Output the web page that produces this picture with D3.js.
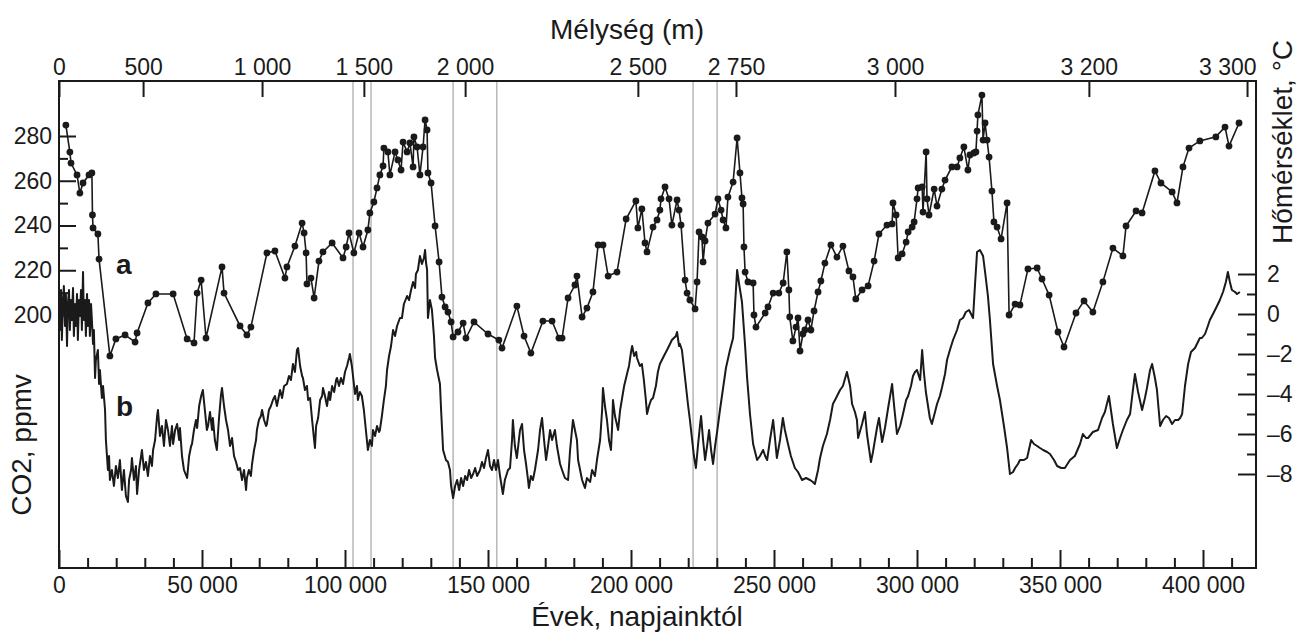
<!DOCTYPE html>
<html>
<head>
<meta charset="utf-8">
<script src="https://cdn.jsdelivr.net/npm/d3@7"></script>
<style>
  body { margin: 0; background: #fff; }
  svg { display: block; font-family: "Liberation Sans", Arial, Helvetica, sans-serif; }
</style>
</head>
<body>
<svg id="chart" width="1307" height="632"></svg>
<script>
// CO2 (a): [age in kyr, ppmv]
const co2Data = [[2.4,284.9],[3.8,272.8],[4.2,267.9],[6.3,262.6],[7.3,254.5],[8.4,259.0],[10.5,262.6],[11.5,263.5],[11.7,244.7],[11.9,238.9],[13.6,236.2],[14.0,225.0],[17.8,181.7],[19.9,189.3],[23.1,191.1],[26.6,187.9],[27.3,192.0],[31.1,205.4],[33.9,209.4],[39.9,209.4],[44.8,189.3],[47.2,187.5],[48.3,209.8],[49.7,215.6],[51.4,189.7],[57.0,221.5],[57.7,209.8],[63.3,195.1],[65.7,191.1],[67.1,194.6],[72.7,227.7],[75.5,228.6],[79.0,216.5],[79.7,221.5],[82.5,230.8],[85.0,241.1],[85.7,236.7],[86.4,227.7],[86.7,213.9],[88.1,216.5],[89.2,207.6],[90.9,224.1],[92.3,228.2],[95.5,232.2],[99.3,225.5],[100.4,230.4],[101.4,236.7],[103.1,227.7],[104.9,236.7],[106.3,230.4],[108.0,238.0],[108.7,245.6],[110.1,250.5],[111.2,256.8],[112.2,262.6],[113.3,266.6],[113.6,274.6],[115.0,272.9],[115.7,262.6],[117.5,272.9],[118.5,269.3],[119.6,264.8],[120.3,277.3],[121.7,272.9],[122.7,276.9],[123.8,266.2],[124.1,279.6],[125.2,275.1],[126.2,262.6],[127.3,275.1],[128.0,287.2],[128.7,282.7],[129.0,263.5],[130.1,259.0],[131.5,239.8],[132.9,223.7],[133.9,208.0],[135.0,203.6],[136.0,201.3],[137.1,196.9],[137.8,190.2],[139.5,192.4],[141.3,196.4],[142.3,189.7],[145.1,196.9],[150.0,191.5],[153.8,188.8],[154.9,185.2],[160.1,204.0],[162.6,190.6],[165.0,183.0],[169.2,197.3],[172.4,197.3],[174.8,189.7],[175.9,189.7],[178.0,207.6],[180.4,213.4],[181.1,217.4],[182.9,199.1],[184.6,203.1],[186.7,210.3],[188.5,231.3],[190.2,231.3],[192.0,217.4],[195.1,219.2],[198.3,242.9],[201.7,251.0],[202.4,238.9],[203.8,247.4],[204.9,232.2],[205.6,228.2],[207.7,239.3],[209.1,242.5],[210.1,246.9],[210.5,251.9],[211.9,257.2],[213.3,251.9],[214.3,240.2],[216.1,251.4],[216.8,246.9],[217.5,240.2],[218.9,215.6],[219.6,209.8],[220.6,206.7],[222.4,202.7],[223.1,214.8],[223.8,237.1],[224.8,234.9],[225.2,223.7],[225.9,233.1],[226.9,241.1],[229.4,245.1],[230.4,251.9],[231.5,246.9],[232.2,242.5],[233.2,238.9],[233.9,252.7],[235.7,259.4],[237.1,279.1],[238.1,263.5],[238.8,252.3],[239.2,249.6],[239.5,230.4],[239.9,219.2],[240.9,214.8],[242.7,214.3],[243.0,200.0],[243.7,194.6],[246.9,200.9],[247.9,203.6],[249.7,209.8],[251.7,209.8],[253.2,214.3],[254.5,228.2],[255.2,211.2],[255.5,199.1],[256.6,188.4],[257.7,194.6],[258.4,198.7],[259.1,183.9],[260.1,191.5],[260.8,193.3],[261.9,197.8],[262.9,193.3],[264.0,201.8],[265.4,210.3],[266.4,215.2],[267.8,223.2],[269.9,231.3],[272.0,225.9],[274.1,230.8],[276.2,219.7],[277.6,217.0],[278.6,207.2],[280.8,211.2],[282.9,213.0],[285.0,224.1],[286.7,236.2],[289.5,240.2],[291.3,240.7],[291.6,250.1],[292.7,244.7],[293.4,225.5],[294.8,227.3],[296.2,232.6],[296.9,237.1],[298.3,239.3],[299.0,241.6],[300.0,251.9],[300.4,256.8],[301.8,257.2],[302.1,246.0],[303.2,272.9],[303.5,251.9],[304.2,244.7],[306.0,256.3],[307.0,248.7],[308.7,256.3],[309.8,260.3],[312.2,266.2],[314.0,266.2],[315.0,270.2],[316.4,275.1],[317.8,264.8],[318.5,271.5],[319.9,272.4],[320.6,272.9],[321.0,282.2],[321.3,289.4],[322.7,298.3],[323.1,278.2],[323.8,285.8],[324.5,278.2],[325.2,270.6],[326.2,255.4],[326.9,241.6],[328.0,239.3],[329.4,234.0],[331.5,250.1],[332.2,200.0],[334.3,204.9],[336.0,204.5],[338.8,220.6],[342.0,221.0],[343.7,216.1],[346.2,208.9],[349.3,192.4],[351.4,185.7],[355.6,200.9],[358.4,206.3],[361.5,201.3],[365.0,214.8],[368.5,229.9],[372.0,226.4],[373.1,239.8],[376.6,246.5],[378.7,245.6],[383.2,264.4],[385.3,259.0],[389.2,255.0],[390.9,250.1],[393.0,266.2],[395.1,274.6],[398.9,277.8],[404.5,279.6],[407.7,284.0],[409.1,275.5],[412.6,285.8]];

// temperature (b): [age in kyr, °C]
const tempData = [[0,0.7],[0.3,-0.8],[0.7,1.2],[1.0,-1.3],[1.4,0.7],[1.7,1.4],[2.1,-0.6],[2.4,1.0],[2.8,-1.6],[3.1,0.5],[3.5,1.2],[3.8,-0.8],[4.2,0.7],[4.5,-0.3],[4.9,1.3],[5.2,-1.1],[5.6,0.5],[5.9,-0.6],[6.3,1.0],[6.6,-1.3],[7.0,0.7],[7.3,-0.1],[7.7,1.2],[8.0,-0.8],[8.4,2.1],[8.7,-0.3],[9.1,0.7],[9.4,-1.1],[9.8,1.0],[10.1,-0.6],[10.5,0.7],[10.8,-1.1],[11.2,0.5],[11.5,-0.3],
[11.9,-1.5],[12.2,-0.8],[12.6,-3.2],[12.9,-2.3],[13.6,-1.8],[14.0,-3.5],[14.3,-2.8],[15.0,-4.2],[15.4,-3.6],[16.1,-4.8],[16.4,-6.3],[17.1,-7.8],[17.5,-7.1],[17.8,-8.3],[18.5,-7.8],[19.2,-8.6],[19.9,-7.6],[20.6,-8.2],[21.3,-7.3],[22.0,-8.8],[22.7,-7.8],[23.4,-9.1],[24.1,-9.4],[24.5,-8.3],[25.2,-7.8],[25.5,-7.2],[26.2,-8.3],[26.9,-7.6],[27.3,-9.0],[28.0,-7.8],[28.7,-7.1],[29.0,-6.8],[29.7,-7.8],[30.4,-7.4],[31.1,-8.1],[31.8,-7.1],[32.5,-7.6],[32.9,-6.8],[33.6,-6.3],[34.3,-5.1],[34.6,-4.8],[35.3,-6.1],[36.0,-5.6],[36.7,-6.6],[37.4,-5.3],[38.1,-5.8],[38.8,-6.6],[39.5,-5.6],[39.9,-6.5],[40.6,-5.8],[41.3,-5.5],[42.0,-6.3],[42.3,-5.7],[43.0,-7.1],[43.7,-7.8],[44.8,-8.2],[45.5,-7.1],[46.2,-6.6],[46.5,-6.5],[47.2,-5.8],[47.9,-5.3],[48.3,-5.7],[49.0,-4.6],[49.7,-4.1],[50.3,-3.8],[51.0,-4.8],[51.7,-5.8],[52.1,-5.6],[52.8,-4.9],[53.5,-5.8],[53.8,-5.2],[54.5,-6.3],[55.2,-6.8],[55.9,-5.3],[56.6,-4.1],[57.0,-3.7],[57.7,-4.6],[58.4,-5.3],[59.1,-5.8],[59.8,-6.6],[60.5,-6.2],[61.2,-7.1],[61.9,-7.4],[62.6,-7.8],[63.3,-7.7],[64.0,-8.3],[64.7,-7.8],[65.4,-8.8],[65.7,-8.2],[66.4,-7.8],[67.1,-8.1],[67.5,-7.5],[68.2,-6.8],[68.9,-6.3],[69.2,-5.8],[69.9,-5.3],[70.6,-5.1],[71.0,-4.8],[71.7,-5.3],[72.4,-5.6],[72.7,-5.5],[73.4,-4.8],[74.1,-4.6],[74.8,-4.3],[75.5,-4.1],[76.2,-4.6],[77.3,-3.8],[78.0,-4.2],[78.7,-3.6],[79.7,-3.5],[80.4,-3.1],[81.1,-3.3],[81.8,-2.5],[82.5,-2.9],[83.2,-1.8],[83.6,-1.7],[84.3,-2.6],[85.0,-3.1],[85.3,-3.2],[86.0,-3.8],[86.7,-3.6],[87.1,-4.3],[87.8,-4.2],[88.5,-5.3],[89.2,-6.3],[89.5,-6.7],[89.9,-5.6],[90.6,-5.2],[91.3,-4.3],[92.0,-4.1],[92.3,-3.7],[93.0,-4.1],[93.7,-4.6],[94.4,-3.9],[94.8,-4.3],[95.5,-3.6],[96.2,-3.9],[96.9,-3.3],[97.2,-3.2],[97.9,-3.6],[98.6,-3.2],[99.3,-3.5],[100.0,-2.9],[100.7,-2.6],[101.4,-2.2],[101.7,-2.0],[102.4,-2.6],[102.8,-3.1],[103.5,-4.0],[104.2,-3.6],[104.5,-4.3],[105.2,-3.9],[105.9,-4.1],[106.6,-4.8],[107.3,-5.8],[108.0,-6.8],[108.7,-6.3],[109.4,-6.6],[109.8,-5.8],[110.5,-6.1],[111.2,-5.6],[111.9,-5.9],[112.2,-5.8],[112.9,-5.1],[113.6,-4.3],[114.3,-3.6],[114.7,-2.8],[115.4,-2.1],[116.1,-1.6],[116.8,-0.8],[117.5,-1.1],[118.2,-0.6],[119.2,-0.2],[119.9,-0.2],[120.6,0.5],[121.7,0.9],[122.4,0.7],[123.1,1.2],[123.8,1.6],[124.5,1.3],[124.8,2.0],[125.5,2.2],[125.9,2.6],[126.2,2.9],[126.9,2.5],[127.6,2.8],[128.0,3.2],[128.3,2.6],[128.7,2.2],[129.0,-0.2],[129.7,0.7],[130.4,0.2],[131.1,-1.1],[131.5,-2.2],[132.2,-2.8],[133.2,-3.5],[133.6,-4.8],[134.3,-6.8],[135.3,-7.3],[136.0,-7.4],[136.7,-7.8],[137.1,-8.6],[137.8,-9.2],[138.5,-8.6],[139.2,-8.3],[139.9,-8.8],[140.6,-8.2],[141.3,-8.6],[142.0,-8.1],[142.7,-8.3],[143.4,-7.8],[144.1,-8.2],[144.8,-8.0],[145.5,-7.7],[146.2,-8.1],[147.2,-7.8],[147.9,-7.4],[148.6,-7.7],[149.3,-7.2],[150.0,-6.8],[150.7,-7.6],[151.4,-7.8],[152.1,-7.3],[152.8,-7.8],[153.5,-7.3],[154.2,-8.1],[155.2,-9.0],[155.9,-8.3],[157.0,-7.8],[157.7,-7.7],[158.4,-6.3],[158.7,-5.3],[159.4,-6.6],[160.1,-7.2],[160.8,-6.3],[161.2,-5.8],[161.9,-5.5],[162.6,-6.8],[163.3,-7.5],[164.0,-8.3],[164.3,-8.7],[165.0,-8.1],[165.7,-8.3],[166.4,-7.8],[167.5,-6.8],[168.2,-5.8],[168.9,-5.2],[169.6,-6.3],[170.3,-7.3],[171.0,-6.6],[171.7,-5.8],[172.4,-6.3],[173.4,-5.8],[174.1,-6.6],[175.2,-7.5],[175.9,-7.8],[176.9,-8.2],[178.0,-8.3],[178.7,-6.8],[179.7,-5.3],[180.4,-5.8],[181.1,-6.3],[181.5,-7.3],[182.2,-7.8],[182.9,-8.3],[183.9,-8.7],[184.6,-8.2],[185.7,-8.4],[186.4,-7.8],[187.4,-8.1],[188.1,-7.3],[189.2,-6.3],[189.9,-4.8],[190.2,-3.7],[190.9,-4.6],[191.6,-5.3],[192.3,-6.3],[193.0,-6.8],[193.4,-5.6],[193.7,-4.3],[194.4,-5.1],[195.5,-5.8],[196.2,-4.8],[196.9,-4.2],[197.6,-3.6],[198.6,-3.0],[199.3,-2.6],[200.0,-1.9],[200.4,-1.6],[201.1,-2.1],[201.8,-1.9],[202.1,-2.2],[203.1,-2.6],[203.8,-2.5],[204.5,-3.3],[205.2,-4.3],[205.6,-5.0],[206.3,-4.6],[207.0,-4.3],[207.7,-4.2],[208.7,-3.6],[209.4,-2.9],[210.1,-2.5],[210.8,-2.3],[211.5,-2.1],[212.6,-1.8],[213.3,-1.6],[214.3,-1.3],[215.0,-1.2],[215.7,-1.1],[216.1,-0.9],[216.8,-1.6],[217.1,-1.5],[217.8,-1.8],[218.2,-2.3],[218.9,-3.2],[219.9,-4.5],[220.6,-5.3],[221.3,-6.2],[222.0,-7.1],[222.7,-7.7],[223.4,-6.6],[224.1,-5.6],[224.5,-5.1],[225.2,-6.3],[225.9,-7.3],[226.6,-6.6],[227.3,-5.8],[228.0,-6.8],[228.7,-7.5],[229.4,-6.6],[230.1,-5.9],[231.1,-4.8],[232.2,-3.7],[233.2,-2.7],[234.6,-1.8],[235.7,-1.2],[236.4,0.5],[237.1,2.2],[237.8,1.5],[238.8,0.6],[239.9,-1.6],[240.6,-3.2],[241.6,-5.0],[242.7,-6.5],[244.1,-7.3],[245.1,-7.1],[246.2,-6.8],[246.9,-7.1],[247.6,-7.3],[248.6,-6.3],[249.7,-5.3],[250.4,-6.3],[251.0,-7.2],[252.1,-6.3],[253.1,-5.2],[253.8,-5.8],[254.9,-6.5],[255.9,-7.1],[257.3,-7.7],[258.4,-7.9],[259.8,-8.3],[261.2,-8.2],[262.6,-8.3],[263.6,-8.4],[264.3,-8.5],[265.4,-7.8],[266.1,-7.2],[267.1,-6.6],[268.5,-6.0],[269.6,-5.3],[270.6,-4.5],[271.7,-4.2],[273.1,-3.8],[274.1,-3.6],[275.5,-2.9],[276.6,-3.6],[277.3,-4.5],[278.3,-4.9],[279.0,-5.3],[279.4,-6.2],[280.8,-5.5],[281.8,-4.9],[282.5,-6.0],[283.2,-6.7],[283.9,-7.4],[284.6,-6.9],[285.3,-6.3],[286.0,-5.7],[286.7,-5.2],[287.8,-6.4],[288.8,-5.7],[289.9,-4.7],[290.6,-4.1],[291.3,-3.5],[292.0,-4.6],[293.0,-6.0],[294.1,-5.6],[295.1,-5.0],[296.2,-4.3],[296.9,-4.1],[297.9,-3.6],[298.6,-3.1],[299.3,-2.9],[300.0,-2.8],[301.1,-3.3],[301.8,-1.8],[302.4,-2.9],[303.1,-3.9],[304.5,-5.2],[305.2,-5.5],[306.3,-4.9],[307.0,-4.5],[308.0,-4.1],[308.7,-3.7],[309.8,-3.0],[310.5,-2.3],[311.5,-1.8],[312.6,-1.3],[314.0,-0.8],[315.0,-0.3],[316.1,-0.2],[317.1,0.1],[318.2,0.2],[318.9,0.0],[319.6,-0.2],[320.3,1.5],[321.0,3.1],[322.0,3.2],[323.1,2.9],[323.8,2.1],[324.8,0.9],[325.5,-0.3],[326.6,-2.5],[328.0,-3.6],[329.0,-4.3],[330.4,-5.6],[331.5,-6.7],[332.5,-8.0],[333.6,-7.9],[334.3,-7.7],[335.3,-7.5],[336.0,-7.3],[337.4,-7.3],[338.5,-7.2],[339.9,-6.3],[340.9,-6.5],[342.0,-6.6],[343.0,-6.7],[344.1,-6.8],[345.5,-6.9],[346.5,-7.0],[347.9,-7.3],[349.0,-7.6],[350.4,-7.7],[351.7,-7.7],[353.5,-7.3],[355.2,-7.1],[357.0,-6.5],[358.0,-6.0],[359.1,-6.2],[359.8,-6.2],[361.5,-5.9],[363.3,-5.8],[364.7,-5.2],[365.7,-4.9],[367.1,-4.1],[367.8,-4.8],[368.5,-5.5],[369.9,-6.7],[371.0,-6.2],[372.0,-5.8],[373.4,-5.3],[374.5,-5.0],[375.5,-3.8],[376.2,-3.0],[377.3,-3.9],[378.7,-4.8],[379.7,-4.2],[380.4,-3.7],[381.5,-2.8],[382.2,-2.5],[383.2,-3.2],[383.9,-3.8],[385.0,-5.6],[386.0,-5.3],[387.1,-5.1],[388.1,-5.2],[389.2,-5.5],[390.2,-5.3],[391.3,-5.3],[392.0,-5.2],[392.7,-5.0],[393.7,-3.6],[394.8,-2.5],[395.8,-1.9],[397.2,-1.7],[398.9,-1.2],[399.6,-1.2],[400.7,-1.0],[401.7,-0.6],[402.4,-0.3],[403.5,0.0],[404.9,0.4],[405.9,0.7],[407.0,1.1],[408.0,1.6],[408.7,2.1],[409.4,1.6],[410.1,1.2],[411.2,1.1],[411.9,1.0],[412.9,1.1]];

// top axis: depth ticks (m) and the age (kyr) each one sits at
const depthTicks = [0, 500, 1000, 1500, 2000, 2500, 2750, 3000, 3200, 3300];
const depthTickAge = [0, 29.4, 71.0, 106.6, 142.0, 202.4, 236.7, 292.3, 360.1, 415.4];

// thin vertical marker lines (kyr)
const markerAges = [102.8, 109.1, 137.8, 153.1, 221.7, 230.1];

// tick values
const ageMajorTicks = [0, 50, 100, 150, 200, 250, 300, 350, 400];
const ageMinorTicks = d3.range(0, 411, 10).filter(d => d % 50 !== 0);
const co2MajorTicks = [200, 220, 240, 260, 280];
const co2MinorTicks = [210, 230, 250, 270];
const tempMajorTicks = [2, 0, -2, -4, -6, -8];
const tempMinorTicks = [1, -1, -3, -5, -7];

const width = 1307, height = 632;
const frame = { left: 59, right: 1256, top: 81, bottom: 568 };
const ink = '#1a1a1a';

const svg = d3.select('#chart');
svg.append('rect').attr('width', width).attr('height', height).attr('fill', '#fff');

const x = d3.scaleLinear().domain([0, 400]).range([59, 1203]);
const yCo2 = d3.scaleLinear().domain([200, 280]).range([315, 136]);
const yTemp = d3.scaleLinear().domain([-8, 2]).range([474, 274]);
const depth = d3.scaleLinear().domain(depthTicks).range(depthTickAge.map(x));

const fmt = d3.formatLocale({ decimal: ',', thousands: ' ', grouping: [3], currency: ['', ''], minus: '\u2013' }).format(',d');

function styleAxis(g) {
  g.select('.domain').remove();
  g.selectAll('.tick line').attr('stroke', ink).attr('stroke-width', 2);
  g.selectAll('.tick text').attr('fill', ink).attr('font-size', 23)
    .attr('font-family', '"Liberation Sans", Arial, sans-serif');
}

// marker lines
svg.append('g').selectAll('line')
  .data(markerAges)
  .enter().append('line')
  .attr('x1', d => x(d)).attr('x2', d => x(d))
  .attr('y1', frame.top).attr('y2', frame.bottom)
  .attr('stroke', '#9d9090').attr('stroke-width', 1);

// bottom axis (years)
svg.append('g').attr('transform', `translate(0,${frame.bottom})`)
  .call(d3.axisBottom(x).tickValues(ageMinorTicks).tickSize(-10).tickFormat(''))
  .call(styleAxis);
svg.append('g').attr('transform', `translate(0,${frame.bottom})`)
  .call(d3.axisBottom(x).tickValues(ageMajorTicks).tickSize(-18).tickPadding(9).tickFormat(d => fmt(d * 1000)))
  .call(styleAxis);

// top axis (depth)
const topAxis = svg.append('g').attr('transform', `translate(0,${frame.top})`)
  .call(d3.axisTop(depth).tickValues(depthTicks).tickSize(-16).tickPadding(6).tickFormat(fmt))
  .call(styleAxis);
topAxis.selectAll('.tick').filter(d => d === 3300).select('text')
  .attr('text-anchor', 'end').attr('dx', 9);

// left axis (CO2)
svg.append('g').attr('transform', `translate(${frame.left},0)`)
  .call(d3.axisLeft(yCo2).tickValues(co2MinorTicks).tickSize(-9).tickFormat(''))
  .call(styleAxis);
svg.append('g').attr('transform', `translate(${frame.left},0)`)
  .call(d3.axisLeft(yCo2).tickValues(co2MajorTicks).tickSize(-17).tickPadding(7))
  .call(styleAxis);

// right axis (temperature)
svg.append('g').attr('transform', `translate(${frame.right},0)`)
  .call(d3.axisRight(yTemp).tickValues(tempMinorTicks).tickSize(-9).tickFormat(''))
  .call(styleAxis);
svg.append('g').attr('transform', `translate(${frame.right},0)`)
  .call(d3.axisRight(yTemp).tickValues(tempMajorTicks).tickSize(-18).tickPadding(11).tickFormat(fmt))
  .call(styleAxis);

// frame
svg.append('rect')
  .attr('x', frame.left).attr('y', frame.top)
  .attr('width', frame.right - frame.left).attr('height', frame.bottom - frame.top)
  .attr('fill', 'none').attr('stroke', ink).attr('stroke-width', 2);

// series b: temperature
svg.append('path')
  .datum(tempData)
  .attr('fill', 'none')
  .attr('stroke', ink)
  .attr('stroke-width', 2)
  .attr('stroke-linejoin', 'round')
  .attr('d', d3.line().x(d => x(d[0])).y(d => yTemp(d[1])));

// series a: CO2 with dots
svg.append('path')
  .datum(co2Data)
  .attr('fill', 'none')
  .attr('stroke', ink)
  .attr('stroke-width', 1.6)
  .attr('d', d3.line().x(d => x(d[0])).y(d => yCo2(d[1])));
svg.append('g').selectAll('circle')
  .data(co2Data)
  .enter().append('circle')
  .attr('cx', d => x(d[0]))
  .attr('cy', d => yCo2(d[1]))
  .attr('r', 3.4)
  .attr('fill', ink);

// series letters
svg.append('text').attr('x', 116).attr('y', 274)
  .attr('font-size', 28).attr('font-weight', 'bold').attr('fill', ink).text('a');
svg.append('text').attr('x', 116).attr('y', 416)
  .attr('font-size', 28).attr('font-weight', 'bold').attr('fill', ink).text('b');

// axis titles
svg.append('text').attr('x', 627).attr('y', 39).attr('text-anchor', 'middle')
  .attr('font-size', 28).attr('fill', ink).text('Mélység (m)');
svg.append('text').attr('x', 637).attr('y', 626).attr('text-anchor', 'middle')
  .attr('font-size', 28).attr('fill', ink).text('Évek, napjainktól');
svg.append('text').attr('transform', 'translate(31,445) rotate(-90)').attr('text-anchor', 'middle')
  .attr('font-size', 28).attr('fill', ink).text('CO2, ppmv');
svg.append('text').attr('transform', 'translate(1292,142) rotate(-90)').attr('text-anchor', 'middle')
  .attr('font-size', 28).attr('fill', ink).text('Hőmérséklet, °C');
</script>
</body>
</html>
